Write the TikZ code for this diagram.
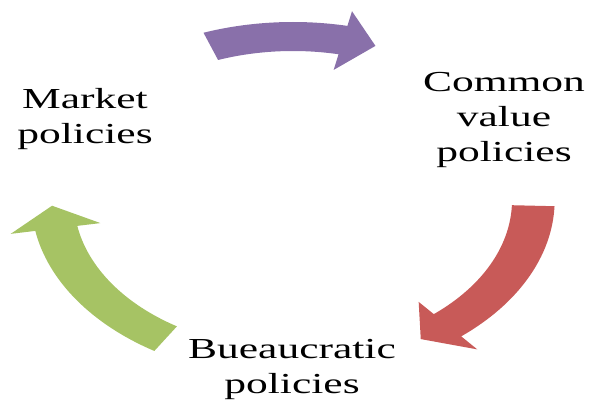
\documentclass[tikz,border=0pt]{standalone}
\usepackage{fontspec}
\setmainfont{Liberation Serif}
\definecolor{arpurple}{RGB}{137,112,170}
\definecolor{arred}{RGB}{200,90,88}
\definecolor{argreen}{RGB}{166,195,100}
\begin{document}
\begin{tikzpicture}[x=1pt,y=1pt,
  lbl/.style={align=center,xscale=1.5,inner sep=0pt,font=\fontsize{29}{35}\selectfont}]
\useasboundingbox (0,-401) rectangle (593,0);
\begin{scope}[shift={(293,-200)},xscale=1.47]
  % purple arrow (top)
  \fill[arpurple] (110:178) arc[start angle=110,end angle=78,radius=178]
    -- (78:193) -- (70:164) -- (78:133) -- (78:149)
    arc[start angle=78,end angle=110,radius=149] -- cycle;
  % red arrow (right)
  \fill[arred] (-2:178) arc[start angle=-2,end angle=-50,radius=178]
    -- (-50:195) -- (-58:164) -- (-50:133) -- (-50:149)
    arc[start angle=-50,end angle=-2,radius=149] -- cycle;
  % green arrow (left)
  \fill[argreen] (238:178) arc[start angle=238,end angle=190,radius=178]
    -- (190:195) -- (182:164) -- (190:133) -- (190:149)
    arc[start angle=190,end angle=238,radius=149] -- cycle;
\end{scope}
\node[lbl] (market) at (85,-119) {Market\\policies};
\node[lbl] (common) at (504,-120) {Common\\value\\policies};
\node[lbl] (bureau) at (292,-369) {Bueaucratic\\policies};
\end{tikzpicture}
\end{document}
